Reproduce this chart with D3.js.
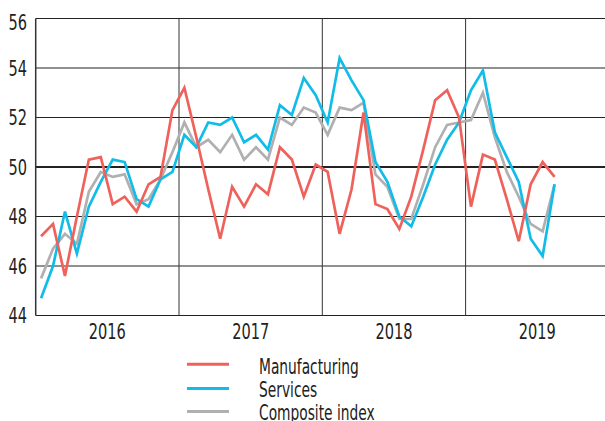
<!DOCTYPE html>
<html>
<head>
<meta charset="utf-8">
<script src="https://cdn.jsdelivr.net/npm/d3@7"></script>
<style>
  html, body { margin: 0; padding: 0; background: #fff; }
  svg { display: block; }
  text { font-family: "DejaVu Sans Condensed", "DejaVu Sans", sans-serif; font-stretch: condensed; fill: #222; }
</style>
</head>
<body>
<div id="chart"></div>
<script>
// ── Data (monthly, Jan 2016 – Aug 2019) ──
const years = ['2016', '2017', '2018', '2019'];
const yTicks = [44, 46, 48, 50, 52, 54, 56];

const manufacturing = [
  47.2, 47.7, 45.6, 48.0, 50.3, 50.4, 48.5, 48.8, 48.2, 49.3, 49.6, 52.3,
  53.2, 51.2, 49.1, 47.1, 49.2, 48.4, 49.3, 48.9, 50.8, 50.3, 48.8, 50.1,
  49.8, 47.3, 49.1, 52.2, 48.5, 48.3, 47.5, 48.8, 50.7, 52.7, 53.1, 52.0,
  48.4, 50.5, 50.3, 48.7, 47.0, 49.3, 50.2, 49.6
];
const services = [
  44.7, 46.0, 48.2, 46.5, 48.4, 49.4, 50.3, 50.2, 48.7, 48.4, 49.5, 49.8,
  51.3, 50.8, 51.8, 51.7, 52.0, 51.0, 51.3, 50.7, 52.5, 52.1, 53.6, 52.9,
  51.8, 54.4, 53.5, 52.7, 50.2, 49.4, 48.0, 47.6, 48.8, 50.1, 51.1, 51.8,
  53.1, 53.9, 51.4, 50.4, 49.4, 47.1, 46.4, 49.3
];
const composite = [
  45.5, 46.7, 47.3, 46.9, 49.0, 49.8, 49.6, 49.7, 48.5, 48.7, 49.5, 50.6,
  51.8, 50.8, 51.1, 50.6, 51.3, 50.3, 50.8, 50.3, 52.0, 51.7, 52.4, 52.2,
  51.3, 52.4, 52.3, 52.6, 49.7, 49.2, 47.9, 47.9, 49.3, 50.8, 51.7, 51.8,
  51.9, 53.0, 51.2, 49.8, 48.8, 47.7, 47.4, 49.3
];

const series = [
  { name: 'Composite index', values: composite, color: '#b0b0b0' },
  { name: 'Services', values: services, color: '#12bce8' },
  { name: 'Manufacturing', values: manufacturing, color: '#ef615b' }
];
const legendOrder = ['Manufacturing', 'Services', 'Composite index'];

// ── Layout ──
const W = 605, H = 421;
const plot = { left: 35.7, right: 605, top: 18.5, bottom: 315.5 };
const squeeze = 0.77; // condensed look for digits

const svg = d3.select('#chart').append('svg')
  .attr('width', W).attr('height', H)
  .attr('viewBox', '0 0 ' + W + ' ' + H);

// months since Jan 2016
const x = d3.scaleLinear().domain([0, 48]).range([plot.left, plot.left + 4 * 143.3]);
const y = d3.scaleLinear().domain([44, 56]).range([plot.bottom, plot.top]);

// Horizontal grid
yTicks.forEach(t => {
  svg.append('line')
    .attr('x1', plot.left).attr('x2', plot.right)
    .attr('y1', y(t)).attr('y2', y(t))
    .attr('stroke', '#222')
    .attr('stroke-width', t === 50 ? 2 : 1);
});

// Year separators
[12, 24, 36].forEach(m => {
  svg.append('line')
    .attr('x1', x(m)).attr('x2', x(m))
    .attr('y1', plot.top).attr('y2', plot.bottom)
    .attr('stroke', '#333').attr('stroke-width', 1);
});

// Left axis
svg.append('line')
  .attr('x1', plot.left).attr('x2', plot.left)
  .attr('y1', plot.top).attr('y2', plot.bottom)
  .attr('stroke', '#333').attr('stroke-width', 1.5);

// Y tick labels
yTicks.forEach(t => {
  const ty = t === 56 ? 30 : y(t) + 7.6;
  svg.append('text')
    .attr('transform', 'translate(27,' + ty + ') scale(' + squeeze + ',1)')
    .attr('text-anchor', 'end')
    .style('font-size', '21px')
    .text(t);
});

// Year labels
years.forEach((yr, i) => {
  svg.append('text')
    .attr('transform', 'translate(' + x(i * 12 + 6) + ',338.5) scale(' + squeeze + ',1)')
    .attr('text-anchor', 'middle')
    .style('font-size', '21px')
    .text(yr);
});

// Lines
const line = d3.line()
  .x((d, i) => x(i + 0.45))
  .y(d => y(d));

svg.append('clipPath').attr('id', 'plotClip')
  .append('rect').attr('x', plot.left).attr('y', 0)
  .attr('width', plot.right - plot.left).attr('height', plot.bottom);

series.forEach(s => {
  svg.append('path')
    .datum(s.values)
    .attr('d', line)
    .attr('fill', 'none')
    .attr('stroke', s.color)
    .attr('stroke-width', 2.7)
    .attr('clip-path', 'url(#plotClip)');
});

// Legend
const legendY = [364.3, 388.5, 411.5];
legendOrder.forEach((name, i) => {
  const s = series.find(d => d.name === name);
  svg.append('line')
    .attr('x1', 187).attr('x2', 229)
    .attr('y1', legendY[i]).attr('y2', legendY[i])
    .attr('stroke', s.color).attr('stroke-width', 3);
  svg.append('text')
    .attr('transform', 'translate(259,' + (373.5 + i * 23) + ') scale(0.73,1)')
    .style('font-size', '21px')
    .text(name);
});
</script>
</body>
</html>
